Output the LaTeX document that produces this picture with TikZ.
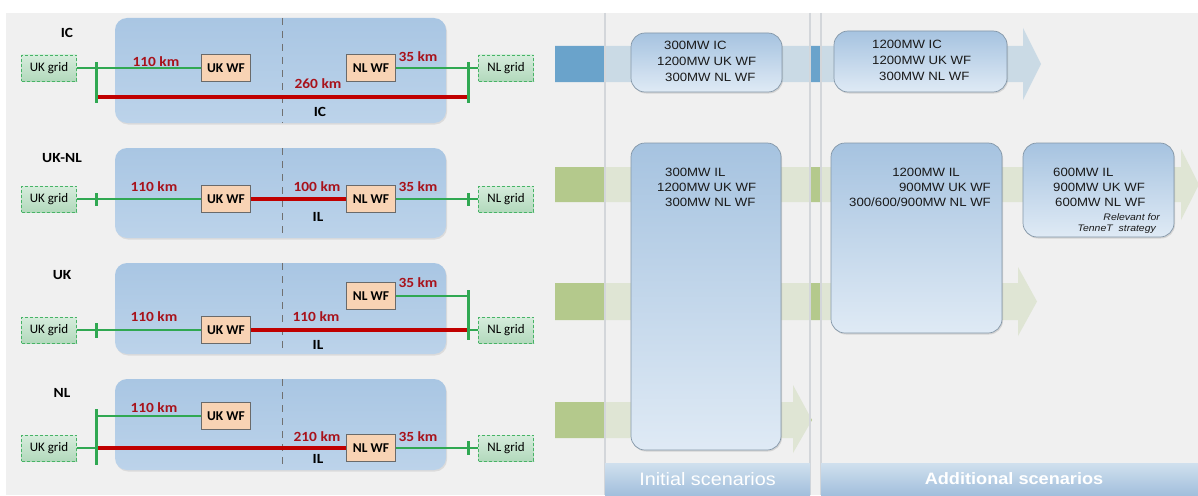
\documentclass[tikz,border=0pt]{standalone}
\usepackage{fontspec}
\setmainfont{Liberation Sans}
\newfontfamily\calfont[FakeStretch=1.1]{Carlito}
\newfontfamily\calplain{Carlito}
\newfontfamily\arifont[FakeStretch=1.1]{Liberation Sans}
\usetikzlibrary{shadows}
\definecolor{bgc}{HTML}{F0F0F0}
\definecolor{panelTop}{HTML}{A9C6E3}
\definecolor{panelBot}{HTML}{BCD3EA}
\definecolor{gline}{HTML}{30A852}
\definecolor{rline}{HTML}{C00000}
\definecolor{rtext}{HTML}{A8121B}
\definecolor{wffill}{HTML}{F8D3B4}
\definecolor{wfedge}{HTML}{6A6A6A}
\definecolor{gridTop}{HTML}{D6ECDC}
\definecolor{gridBot}{HTML}{B2D9BC}
\definecolor{gridEdge}{HTML}{47B366}
\definecolor{arrBlue}{HTML}{6AA3CB}
\definecolor{arrGreen}{HTML}{B4C98C}
\definecolor{boxTop}{HTML}{A6C3E0}
\definecolor{boxBot}{HTML}{DFEAF5}
\definecolor{boxEdge}{HTML}{8497A8}
\definecolor{hdrTop}{HTML}{D0E0EE}
\definecolor{hdrBot}{HTML}{A2BFDC}
\definecolor{colline}{HTML}{D3D6DA}
\definecolor{divc}{HTML}{707070}
\newcommand\flowarrow[7]{%
  \fill[#1] (555,#2) -- (#6,#2) -- (#6,#4) -- (#7,{(#2+#3)/2}) -- (#6,#5) -- (#6,#3) -- (555,#3) -- cycle;}
\tikzset{
  panel/.style={rounded corners=12pt, top color=panelTop, bottom color=panelBot, draw=none,
    minimum width=331pt, inner sep=0pt, drop shadow={opacity=0.18, shadow xshift=1pt, shadow yshift=-1.5pt}},
  gridbox/.style={draw=gridEdge, dash pattern=on 3pt off 2pt, line width=0.9pt, top color=gridTop,
    bottom color=gridBot, minimum width=55pt, minimum height=26pt, inner sep=0pt,
    font=\calplain\fontsize{13}{15}\selectfont},
  wfbox/.style={draw=wfedge, fill=wffill, line width=1.1pt, minimum width=49pt, minimum height=27pt,
    inner sep=0pt, font=\calplain\bfseries\fontsize{13.5}{15}\selectfont},
  km/.style={text=rtext, font=\calfont\bfseries\fontsize{14}{16}\selectfont, inner sep=0pt},
  lbl/.style={font=\calfont\bfseries\fontsize{14}{16}\selectfont, inner sep=0pt},
  gl/.style={draw=gline, line width=1.8pt},
  gbar/.style={draw=gline, line width=3pt},
  rl/.style={draw=rline, line width=4.5pt},
  divider/.style={draw=divc, dash pattern=on 7pt off 6pt, line width=1pt},
  sbox/.style={rounded corners=14pt, top color=boxTop, bottom color=boxBot, draw=boxEdge,
    line width=0.7pt, inner sep=0pt, drop shadow={opacity=0.25, shadow xshift=1pt, shadow yshift=-1.5pt}},
  mw/.style={font=\arifont\fontsize{12}{14}\selectfont, inner sep=0pt, text=black!90},
  note/.style={font=\arifont\itshape\fontsize{9.5}{11}\selectfont, inner sep=0pt, text=black!90},
  hdr/.style={top color=hdrTop, bottom color=hdrBot, inner sep=0pt, text=white, minimum height=32pt},
  coll/.style={draw=colline, line width=1.2pt},
}
\begin{document}
\begin{tikzpicture}[x=1pt,y=-1pt]
\useasboundingbox (0,0) rectangle (1198,495);
\fill[white] (0,0) rectangle (1198,495);
\fill[bgc] (6,13) rectangle (1198,495);

% ---------- Row 1: IC ----------
\node[lbl] (t1) at (67,33) {IC};
\node[panel, minimum height=105pt] (p1) at (280.5,70.5) {};
\draw[divider] (282,18) -- (282,123);
\node[gridbox] (ukg1) at (49,68) {UK grid};
\node[wfbox] (ukw1) at (226,68) {UK WF};
\node[wfbox] (nlw1) at (371,68) {NL WF};
\node[gridbox] (nlg1) at (506,68) {NL grid};
\coordinate (b1t) at (96,62); \coordinate (b1b) at (96,103); \coordinate (b1r) at (96,97);
\coordinate (c1t) at (468,62); \coordinate (c1b) at (468,103); \coordinate (c1r) at (468,97);
\draw[gl] (ukg1.east) -- (ukw1.west);
\draw[gl] (nlw1.east) -- (nlg1.west);
\draw[rl] (b1r) -- (c1r);
\draw[gbar] (b1t) -- (b1b);
\draw[gbar] (c1t) -- (c1b);
\node[km] (k11) at (156,62) {110 km};
\node[km] (k12) at (418,57) {35 km};
\node[km] (k13) at (318,84) {260 km};
\node[lbl] (i1) at (320,112) {IC};

% ---------- Row 2: UK-NL ----------
\node[lbl] (t2) at (62,158) {UK-NL};
\node[panel, minimum height=90pt] (p2) at (280.5,193) {};
\draw[divider] (282,148) -- (282,238);
\node[gridbox] (ukg2) at (49,199) {UK grid};
\node[wfbox] (ukw2) at (226,199) {UK WF};
\node[wfbox] (nlw2) at (371,199) {NL WF};
\node[gridbox] (nlg2) at (506,199) {NL grid};
\coordinate (b2t) at (96,193); \coordinate (b2b) at (96,206);
\coordinate (c2t) at (468,193); \coordinate (c2b) at (468,206);
\draw[gl] (ukg2.east) -- (ukw2.west);
\draw[gl] (nlw2.east) -- (nlg2.west);
\draw[rl] (ukw2.east) -- (nlw2.west);
\draw[gbar] (b2t) -- (b2b);
\draw[gbar] (c2t) -- (c2b);
\node[km] (k21) at (154,187) {110 km};
\node[km] (k22) at (317,187) {100 km};
\node[km] (k23) at (418,187) {35 km};
\node[lbl] (i2) at (318,217) {IL};

% ---------- Row 3: UK ----------
\node[lbl] (t3) at (62,275) {UK};
\node[panel, minimum height=91pt] (p3) at (280.5,308.5) {};
\draw[divider] (282,263) -- (282,354);
\node[wfbox] (nlw3) at (371,296) {NL WF};
\node[gridbox] (ukg3) at (49,330) {UK grid};
\node[wfbox] (ukw3) at (226,330) {UK WF};
\node[gridbox] (nlg3) at (506,330) {NL grid};
\coordinate (b3t) at (96,323); \coordinate (b3b) at (96,338);
\coordinate (c3t) at (468,290); \coordinate (c3b) at (468,340);
\coordinate (c3u) at (468,296); \coordinate (c3r) at (468,330);
\draw[gl] (ukg3.east) -- (ukw3.west);
\draw[gl] (nlw3.east) -- (c3u);
\draw[gl] (c3r) -- (nlg3.west);
\draw[rl] (ukw3.east) -- (c3r);
\draw[gbar] (b3t) -- (b3b);
\draw[gbar] (c3t) -- (c3b);
\node[km] (k31) at (154,317) {110 km};
\node[km] (k32) at (316,317) {110 km};
\node[km] (k33) at (418,283) {35 km};
\node[lbl] (i3) at (318,345) {IL};

% ---------- Row 4: NL ----------
\node[lbl] (t4) at (62,393) {NL};
\node[panel, minimum height=91pt] (p4) at (280.5,424.5) {};
\draw[divider] (282,379) -- (282,470);
\node[wfbox] (ukw4) at (226,416) {UK WF};
\node[gridbox] (ukg4) at (49,448) {UK grid};
\node[wfbox] (nlw4) at (371,448) {NL WF};
\node[gridbox] (nlg4) at (506,448) {NL grid};
\coordinate (b4t) at (96,409); \coordinate (b4b) at (96,465);
\coordinate (b4u) at (96,416); \coordinate (b4r) at (96,448);
\coordinate (c4t) at (468,441); \coordinate (c4b) at (468,455);
\draw[gl] (b4u) -- (ukw4.west);
\draw[gl] (ukg4.east) -- (b4r);
\draw[rl] (b4r) -- (nlw4.west);
\draw[gl] (nlw4.east) -- (nlg4.west);
\draw[gbar] (b4t) -- (b4b);
\draw[gbar] (c4t) -- (c4b);
\node[km] (k41) at (154,408) {110 km};
\node[km] (k42) at (317,437) {210 km};
\node[km] (k43) at (418,437) {35 km};
\node[lbl] (i4) at (318,459) {IL};

% ---------- Right: arrows ----------
\flowarrow{arrBlue}{46}{82}{28}{100}{1023}{1041}
\flowarrow{arrGreen}{167}{202}{149}{220}{1181}{1199}
\flowarrow{arrGreen}{283}{320}{267}{336}{1018}{1037}
\flowarrow{arrGreen}{402}{438}{385}{453}{793}{812}

% column overlays
\fill[bgc, opacity=0.72] (605,13) rectangle (810,463);
\fill[bgc, opacity=0.72] (821,13) rectangle (1198,463);
\draw[coll] (605,13) -- (605,495);
\draw[coll] (810,13) -- (810,495);
\draw[coll] (821,13) -- (821,495);

% scenario boxes
\node[sbox, minimum width=151pt, minimum height=59pt] (bA) at (706.5,62.5) {};
\node[sbox, minimum width=173pt, minimum height=61pt] (bB) at (920.5,61.5) {};
\node[sbox, minimum width=150pt, minimum height=307pt] (bC) at (706,296.5) {};
\node[sbox, minimum width=171pt, minimum height=190pt] (bD) at (916.5,238) {};
\node[sbox, minimum width=151pt, minimum height=94pt] (bE) at (1098.5,190) {};

\node[mw, anchor=west] (a1) at (664,45.5) {300MW IC};
\node[mw, anchor=west] (a2) at (657,61.5) {1200MW UK WF};
\node[mw, anchor=west] (a3) at (665,77) {300MW NL WF};

\node[mw, anchor=west] (bb1) at (872,44) {1200MW IC};
\node[mw, anchor=west] (bb2) at (872,60) {1200MW UK WF};
\node[mw, anchor=west] (bb3) at (879,76) {300MW NL WF};

\node[mw, anchor=west] (c1) at (665,172) {300MW IL};
\node[mw, anchor=west] (c2) at (657,187) {1200MW UK WF};
\node[mw, anchor=west] (c3) at (665,202) {300MW NL WF};

\node[mw, anchor=east] (d1) at (960,172) {1200MW IL};
\node[mw, anchor=east] (d2) at (991,187) {900MW UK WF};
\node[mw, anchor=east] (d3) at (991,202) {300/600/900MW NL WF};

\node[mw, anchor=west] (e1) at (1053,172) {600MW IL};
\node[mw, anchor=west] (e2) at (1053,187) {900MW UK WF};
\node[mw, anchor=west] (e3) at (1055,202) {600MW NL WF};
\node[note, anchor=east] (e4) at (1160,217) {Relevant for};
\node[note, anchor=east] (e5) at (1156,229) {TenneT\hspace{3pt} strategy};

% headers
\node[hdr, minimum width=205pt, font=\arifont\fontsize{18}{20}\selectfont] (h1) at (707.5,479) {Initial scenarios};
\node[hdr, minimum width=377pt, font=\arifont\bfseries\fontsize{16.5}{20}\selectfont] (h2) at (1009.5,479) {\hspace*{9pt}Additional scenarios};
\end{tikzpicture}
\end{document}
